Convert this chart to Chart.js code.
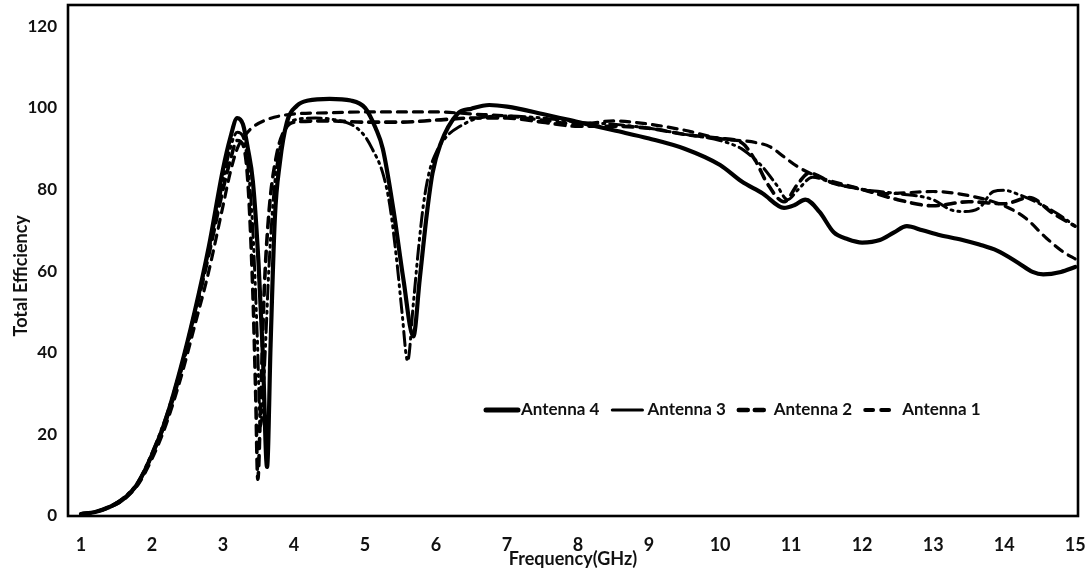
<!DOCTYPE html>
<html><head><meta charset="utf-8">
<script src="https://cdn.jsdelivr.net/npm/chart.js@4.4.0/dist/chart.umd.min.js"></script>
<style>html,body{margin:0;padding:0;background:#fff;} #wrap{width:1085px;height:570px;position:relative;}</style>
</head><body><div id="wrap"><canvas id="c" width="1085" height="570"></canvas></div>
<script>
const seriesLabels = ['Antenna 4', 'Antenna 3', 'Antenna 2', 'Antenna 1'];
const xTickValues = [1, 2, 3, 4, 5, 6, 7, 8, 9, 10, 11, 12, 13, 14, 15];
const yTickValues = [0, 20, 40, 60, 80, 100, 120];
const xTitle = 'Frequency(GHz)';
const yTitle = 'Total Efficiency';

const a4Freq = [1.0,1.2,1.4,1.6,1.8,2.0,2.2,2.4,2.6,2.8,3.0,3.1,3.2,3.28,3.35,3.42,3.5,3.56,3.62,3.67,3.73,3.8,3.9,4.04,4.2,4.5,4.8,5.0,5.15,5.25,5.4,5.54,5.68,5.77,5.87,5.95,6.06,6.3,6.5,6.75,7.0,7.5,8.0,8.5,9.0,9.5,10.0,10.3,10.6,10.9,11.05,11.2,11.4,11.6,11.8,12.0,12.25,12.45,12.63,12.85,13.1,13.4,13.65,13.9,14.2,14.4,14.55,14.8,15.0];
const a4Eff  = [0.5,1,2.2,4.2,8,15,24,36,50,66,85,92.5,97.5,96,90,82,62,40,12,42,73,86.5,96.5,100.5,101.8,102.2,101.8,100,95,90,75,58,44,58,74,84,91,98.5,99.8,100.7,100.3,98.5,96.5,94.5,92.5,90,86,82,79,75.5,76.2,77.5,74.5,69.5,67.8,67,67.6,69.5,71,70,68.8,67.7,66.5,65,62,59.8,59.2,59.8,61];

const a3Freq = [1.0,1.2,1.4,1.6,1.8,2.0,2.2,2.4,2.6,2.8,3.0,3.1,3.2,3.28,3.35,3.42,3.48,3.53,3.58,3.65,3.72,3.8,3.9,4.0,4.3,4.6,4.85,5.0,5.1,5.25,5.35,5.45,5.52,5.6,5.68,5.75,5.82,5.9,6.0,6.15,6.34,6.6,7.0,7.5,8.0,8.5,9.0,9.5,10.0,10.3,10.45,10.6,10.8,10.95,11.1,11.3,11.6,12.0,12.5,13.0,13.25,13.45,13.65,13.85,14.0,14.2,14.5,14.8,15.0];
const a3Eff  = [0.5,1,2.3,4.5,8.3,15.5,24.5,36,50,65,82,90,94,93,86,70,45,22,35,62,80,90,95.5,97,97.5,97,95.5,93,90,84,76,62,50,38,52,65,76,84,89,93,95.5,97.5,98,97.5,96.5,96,95,93.5,92,90,88,85.5,81,77.5,80,83,81.5,80,79,77.5,75,74.6,75.5,79.5,79.8,78.8,76.5,73.5,71];

const a2Freq = [1.0,1.2,1.4,1.6,1.8,2.0,2.2,2.4,2.6,2.8,3.0,3.1,3.2,3.28,3.35,3.42,3.46,3.49,3.53,3.58,3.65,3.75,3.85,4.0,4.5,5.0,5.5,6.0,6.5,7.0,7.5,8.0,8.5,9.0,9.5,10.0,10.3,10.5,10.66,10.9,11.1,11.25,11.6,12.0,12.5,13.0,13.5,14.0,14.35,14.7,15.0];
const a2Eff  = [0.5,1,2.2,4.3,8,15,23.5,35,49,64,80,87,92,91,82,55,30,9,28,55,75,88,94,96.5,96.8,96.5,96.5,97,97.5,97.5,96.5,95.5,95.5,95,93.5,92.5,91.5,87,81.6,77,81.5,84,81.5,80,77.5,76,77,76.5,78,74,71];

const a1Freq = [1.0,1.2,1.4,1.6,1.8,2.0,2.2,2.4,2.6,2.8,3.0,3.1,3.2,3.3,3.4,3.6,3.9,4.5,5.0,5.5,6.0,6.5,7.0,7.5,8.0,8.5,9.0,9.5,10.0,10.5,10.7,10.9,11.1,11.4,11.8,12.35,13.0,13.5,14.0,14.3,14.6,14.85,15.0];
const a1Eff  = [0.5,1,2.1,4,7.6,14,22.5,33.5,46.5,60,76,84,90,93,95,97,98.3,98.8,99,99,99,98.5,98,97,96,96.8,96,94.5,92.5,91.5,90.5,88,85.5,83,81,79,79.5,78.5,76,73,68,64.5,63];

function pts(xs, ys) { return xs.map((x, i) => ({ x: x, y: ys[i] })); }

const FONT = 'Lato, "Open Sans", sans-serif';
const styles = [
  { width: 4.2, dash: [], lWidth: 5, lDash: [], lLen: 32, tGap: 3 },
  { width: 3, dash: [14, 5, 2, 5, 2, 5], lWidth: 3.2, lDash: [], lLen: 30, tGap: 5 },
  { width: 3.6, dash: [10, 7], lWidth: 4.5, lDash: [9, 7], lLen: 30, tGap: 5 },
  { width: 3.2, dash: [9, 7], lWidth: 3.8, lDash: [8, 8], lLen: 25, tGap: 12 }
];
const seriesData = [pts(a4Freq, a4Eff), pts(a3Freq, a3Eff), pts(a2Freq, a2Eff), pts(a1Freq, a1Eff)];

function zeroPad(s) { s.paddingTop = 0; s.paddingBottom = 0; s.paddingLeft = 0; s.paddingRight = 0; }

const frameAndLegend = {
  id: 'frameAndLegend',
  afterDraw(chart) {
    const ctx = chart.ctx, a = chart.chartArea;
    ctx.save();
    ctx.strokeStyle = '#000';
    ctx.lineWidth = 2.6;
    ctx.setLineDash([]);
    ctx.strokeRect(a.left, a.top, a.right - a.left, a.bottom - a.top);
    ctx.font = 'bold 17px ' + FONT;
    ctx.textBaseline = 'middle';
    ctx.fillStyle = '#111';
    let x = 486; const y = 410;
    chart.data.datasets.forEach((ds, i) => {
      const s = styles[i];
      ctx.beginPath();
      ctx.lineWidth = s.lWidth;
      ctx.lineCap = 'round';
      ctx.setLineDash(s.lDash);
      ctx.moveTo(x, y); ctx.lineTo(x + s.lLen, y);
      ctx.stroke();
      ctx.setLineDash([]);
      x += s.lLen + s.tGap;
      ctx.fillText(ds.label, x, y);
      x += ctx.measureText(ds.label).width + 13;
    });
    ctx.restore();
  }
};

new Chart(document.getElementById('c'), {
  type: 'line',
  data: {
    datasets: seriesData.map((d, i) => ({
      label: seriesLabels[i],
      data: d,
      borderColor: '#000',
      backgroundColor: '#000',
      borderWidth: styles[i].width,
      borderDash: styles[i].dash,
      borderCapStyle: 'round',
      borderJoinStyle: 'round',
      pointRadius: 0,
      fill: false,
      cubicInterpolationMode: 'monotone'
    }))
  },
  options: {
    responsive: false,
    animation: false,
    devicePixelRatio: 1,
    layout: { padding: { top: 5, right: 7, left: 0, bottom: 0 } },
    plugins: { legend: { display: false }, tooltip: { enabled: false } },
    scales: {
      x: {
        type: 'linear', min: 0.817, max: 15.04,
        afterBuildTicks: (s) => { s.ticks = xTickValues.map(v => ({ value: v })); },
        afterFit: (s) => { s.height = 54; zeroPad(s); },
        grid: { display: false, drawTicks: false },
        border: { display: false },
        ticks: { padding: 18, color: '#111', font: { family: FONT, size: 18, weight: 'bold' }, maxRotation: 0, autoSkip: false },
        title: { display: true, text: xTitle, color: '#111', padding: { top: 0, bottom: 0 }, font: { family: FONT, size: 18, weight: 'bold' } }
      },
      y: {
        min: 0, max: 125.2,
        afterBuildTicks: (s) => { s.ticks = yTickValues.map(v => ({ value: v })); },
        afterFit: (s) => { s.width = 68; zeroPad(s); },
        grid: { display: false, drawTicks: false },
        border: { display: false },
        ticks: { padding: 11, color: '#111', font: { family: FONT, size: 17, weight: 'bold' } },
        title: { display: true, text: yTitle + '       ', color: '#111', padding: { top: 10, bottom: 0 }, font: { family: FONT, size: 18, weight: 'bold' } }
      }
    }
  },
  plugins: [frameAndLegend]
});
</script>
</body></html>
